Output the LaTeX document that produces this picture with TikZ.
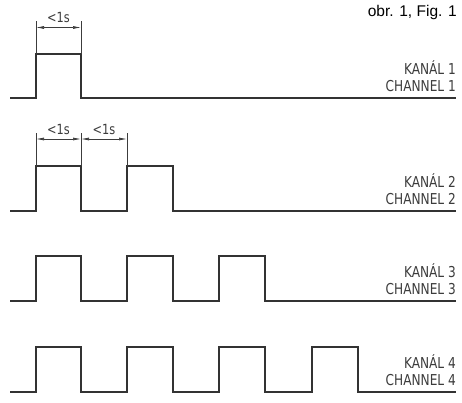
\documentclass[tikz,border=0pt]{standalone}
\usepackage{fontspec}
\setmainfont{Liberation Sans}
\newfontfamily\dinfont[FakeStretch=0.9]{DejaVu Sans Condensed}
\usetikzlibrary{arrows.meta}
\definecolor{wave}{HTML}{333333}
\definecolor{lbl}{HTML}{3C3C3C}
\begin{document}
\begin{tikzpicture}[x=1pt,y=-1pt,
  sig/.style={draw=wave,line width=1.6pt,line join=miter},
  dimline/.style={draw=lbl,line width=0.7pt},
  dimarrow/.style={draw=lbl,line width=0.7pt,{Latex[length=8pt,width=3pt]}-{Latex[length=8pt,width=3pt]}},
  chlabel/.style={font=\dinfont\fontsize{15pt}{17pt}\selectfont,text=lbl,anchor=east,inner sep=0pt,align=right},
  dimtext/.style={font=\dinfont\fontsize{14pt}{16pt}\selectfont,text=lbl,inner sep=0pt},
  figtext/.style={font=\fontsize{15.5pt}{17pt}\selectfont,text=black,anchor=east,inner sep=0pt}]
\useasboundingbox (0,0) rectangle (462,403);
% title
\node[figtext] (fig) at (457,12) {obr. 1, Fig. 1};
% channel 1
\draw[sig] (10,98) -- (36,98) -- (36,54) -- (81,54) -- (81,98) -- (456,98);
\draw[dimline] (36,54) -- (36,21);
\draw[dimline] (81,54) -- (81,21);
\coordinate (a1) at (36,27.5);
\coordinate (b1) at (81,27.5);
\draw[dimarrow] (a1) -- (b1);
\node[dimtext] (t1) at (58.5,17) {<1s};
\node[chlabel] (k1) at (456,68) {KANÁL 1};
\node[chlabel] (c1) at (456,86) {CHANNEL 1};
% channel 2
\draw[sig] (10,211) -- (36,211) -- (36,166) -- (81,166) -- (81,211) -- (127,211) -- (127,166) -- (173,166) -- (173,211) -- (456,211);
\draw[dimline] (36,166) -- (36,133);
\draw[dimline] (81,166) -- (81,133);
\draw[dimline] (127,166) -- (127,133);
\coordinate (a2) at (36,139);
\coordinate (b2) at (81,139);
\coordinate (c2) at (127,139);
\draw[dimarrow] (a2) -- (b2);
\draw[dimarrow] (b2) -- (c2);
\node[dimtext] (t2) at (58.5,129.5) {<1s};
\node[dimtext] (t3) at (104,129.5) {<1s};
\node[chlabel] (k2) at (456,181) {KANÁL 2};
\node[chlabel] (cc2) at (456,199) {CHANNEL 2};
% channel 3
\draw[sig] (10,301) -- (36,301) -- (36,256) -- (81,256) -- (81,301) -- (127,301) -- (127,256) -- (173,256) -- (173,301) -- (219,301) -- (219,256) -- (265,256) -- (265,301) -- (456,301);
\node[chlabel] (k3) at (456,271) {KANÁL 3};
\node[chlabel] (cc3) at (456,289) {CHANNEL 3};
% channel 4
\draw[sig] (10,392) -- (36,392) -- (36,347) -- (81,347) -- (81,392) -- (127,392) -- (127,347) -- (173,347) -- (173,392) -- (219,392) -- (219,347) -- (265,347) -- (265,392) -- (312,392) -- (312,347) -- (358,347) -- (358,392) -- (456,392);
\node[chlabel] (k4) at (456,362) {KANÁL 4};
\node[chlabel] (cc4) at (456,380) {CHANNEL 4};
\end{tikzpicture}
\end{document}
